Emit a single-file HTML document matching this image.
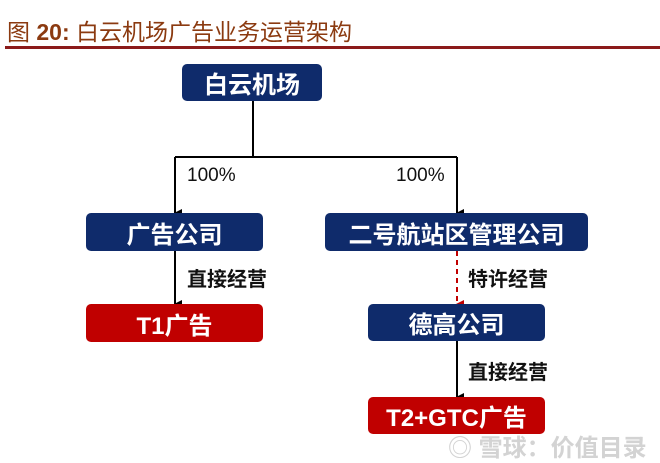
<!DOCTYPE html>
<html><head><meta charset="utf-8"><style>
body{margin:0;width:660px;height:459px;background:#fff;position:relative;overflow:hidden;font-family:"Liberation Sans","Noto Sans CJK SC",sans-serif}
.t{position:absolute;left:7px;top:13px;font-size:23px;color:#8b3a10;font-family:"Liberation Sans","Noto Sans CJK SC",sans-serif}
.rule{position:absolute;left:5px;top:46px;width:655px;height:3px;background:#8b1a1a}
.b{position:absolute;color:#fff;font-weight:bold;font-size:24px;display:flex;align-items:center;justify-content:center;border-radius:5px}
.n{background:#0f2b6b}.r{background:#c00000}
.l{position:absolute;font-size:20px;font-weight:bold;color:#111}
</style></head><body>
<div class="t">图 <b>20:</b> 白云机场广告业务运营架构</div>
<div class="rule"></div>
<svg width="660" height="459" style="position:absolute;left:0;top:0">
<defs><marker id="a" markerWidth="8" markerHeight="8" refX="4" refY="7" orient="auto" markerUnits="userSpaceOnUse"><path d="M0,0 L8,0 L4,8z" fill="#000"/></marker>
<marker id="ar" markerWidth="8" markerHeight="8" refX="4" refY="7" orient="auto" markerUnits="userSpaceOnUse"><path d="M0,0 L8,0 L4,8z" fill="#c00000"/></marker></defs>
<g stroke="#000" stroke-width="2" fill="none">
<line x1="253" y1="100" x2="253" y2="157"/>
<line x1="175" y1="157" x2="457" y2="157"/>
<line x1="175" y1="157" x2="175" y2="213" marker-end="url(#a)"/>
<line x1="457" y1="157" x2="457" y2="213" marker-end="url(#a)"/>
<line x1="175" y1="251" x2="175" y2="304" marker-end="url(#a)"/>
<line x1="457" y1="341" x2="457" y2="397" marker-end="url(#a)"/>
<line x1="457" y1="251" x2="457" y2="304" stroke="#c00000" stroke-dasharray="5,4" marker-end="url(#ar)"/>
</g></svg>
<div class="b n" style="left:182px;top:64px;width:140px;height:37px">白云机场</div>
<div class="b n" style="left:86px;top:213px;width:177px;height:38px">广告公司</div>
<div class="b n" style="left:325px;top:213px;width:263px;height:38px">二号航站区管理公司</div>
<div class="b r" style="left:86px;top:304px;width:177px;height:38px">T1广告</div>
<div class="b n" style="left:368px;top:304px;width:177px;height:37px">德高公司</div>
<div class="b r" style="left:368px;top:397px;width:177px;height:37px">T2+GTC广告</div>
<div class="l" style="left:187px;top:165px;font-weight:normal;font-size:19px">100%</div>
<div class="l" style="left:396px;top:165px;font-weight:normal;font-size:19px">100%</div>
<div class="l" style="left:187px;top:263px">直接经营</div>
<div class="l" style="left:468px;top:263px">特许经营</div>
<div class="l" style="left:468px;top:356px">直接经营</div>
<div style="position:absolute;left:448px;top:428px;font-size:24px;color:rgba(200,200,200,0.8);font-weight:bold">◎ 雪球：价值目录</div>
</body></html>
